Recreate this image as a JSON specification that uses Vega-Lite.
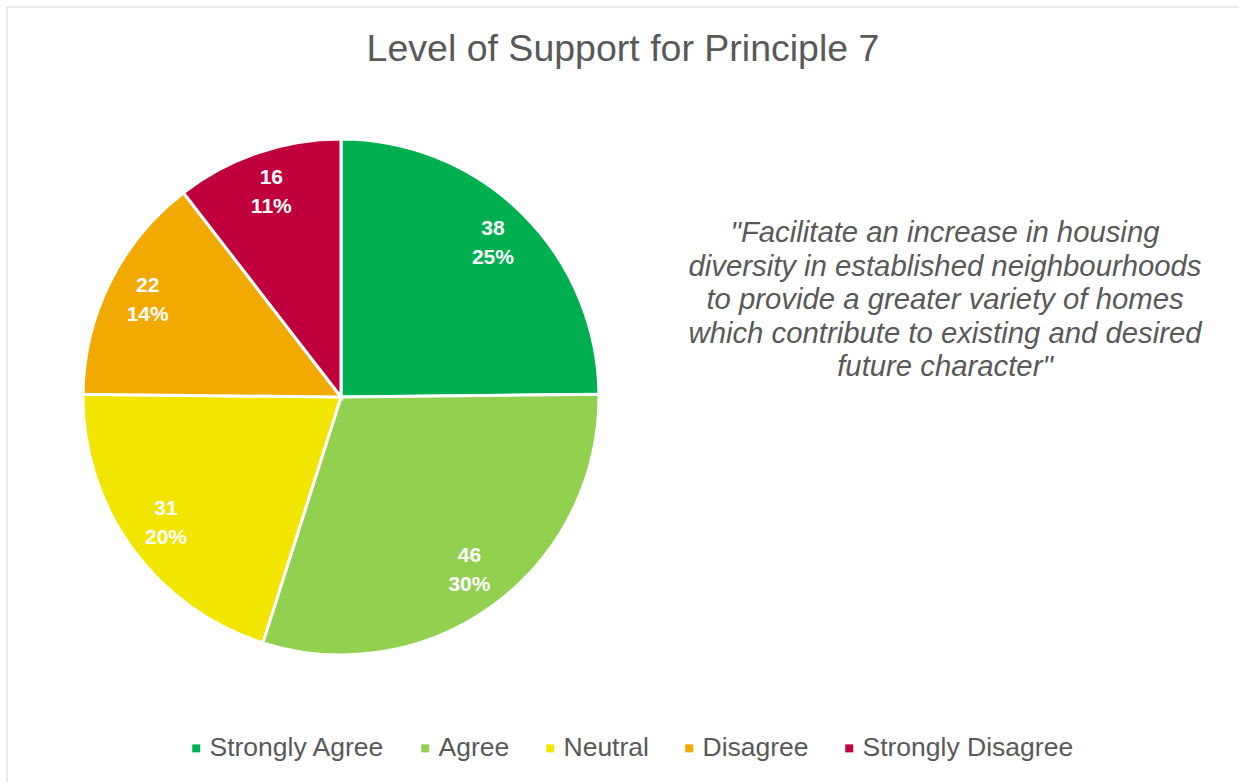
{
  "$schema": "https://vega.github.io/schema/vega-lite/v6.json",
  "autosize": "none",
  "width": 1232,
  "height": 775,
  "padding": {"left": 7, "top": 7, "right": 0, "bottom": 0},
  "background": "white",
  "title": {
    "text": "Level of Support for Principle 7",
    "font": "Liberation Sans",
    "fontSize": 37.5,
    "fontWeight": "normal",
    "color": "#595959",
    "anchor": "middle",
    "baseline": "alphabetic",
    "offset": -92
  },
  "config": {
    "view": {"stroke": null},
    "font": "Liberation Sans"
  },
  "layer": [
    {
      "data": {"values": [{"frame": "border"}]},
      "mark": {"type": "rect", "fill": "transparent", "stroke": "#d9d9d9", "strokeWidth": 1, "x": 0, "y": 0, "x2": {"expr": "width + 6"}, "y2": {"expr": "height + 6"}}
    },
    {
      "data": {
        "values": [
          {"response": "Strongly Agree", "count": 38, "pct": "25%", "label": "38\n25%", "rank": 1},
          {"response": "Agree", "count": 46, "pct": "30%", "label": "46\n30%", "rank": 2},
          {"response": "Neutral", "count": 31, "pct": "20%", "label": "31\n20%", "rank": 3},
          {"response": "Disagree", "count": 22, "pct": "14%", "label": "22\n14%", "rank": 4},
          {"response": "Strongly Disagree", "count": 16, "pct": "11%", "label": "16\n11%", "rank": 5}
        ]
      },
      "encoding": {
        "theta": {"field": "count", "type": "quantitative", "stack": true},
        "order": {"field": "rank", "type": "quantitative"},
        "color": {
          "field": "response",
          "type": "nominal",
          "sort": ["Strongly Agree", "Agree", "Neutral", "Disagree", "Strongly Disagree"],
          "scale": {
            "domain": ["Strongly Agree", "Agree", "Neutral", "Disagree", "Strongly Disagree"],
            "range": ["#00B050", "#92D050", "#F2E600", "#F2A900", "#C0003C"]
          },
          "legend": {
            "title": null,
            "orient": "none",
            "direction": "horizontal",
            "legendX": 176,
            "legendY": 728,
            "symbolType": "square",
            "symbolSize": 64,
            "symbolStrokeWidth": 0,
            "labelFont": "Liberation Sans",
            "labelFontSize": 26.5,
            "labelColor": "#595959",
            "labelOffset": 0,
            "columnPadding": 27,
            "padding": 0,
            "labelLimit": 400
          }
        }
      },
      "layer": [
        {
          "mark": {"type": "arc", "outerRadius": 258, "x": 334, "y": 390, "stroke": "white", "strokeWidth": 3}
        },
        {
          "mark": {"type": "text", "radius": 216, "x": 334, "y": 390, "dy": -14.5, "lineBreak": "\n", "lineHeight": 29, "font": "Liberation Sans", "fontSize": 21, "fontWeight": "bold", "fill": "white", "align": "center", "baseline": "middle"},
          "encoding": {
            "text": {"field": "label", "type": "nominal"},
            "color": {"value": "white"}
          }
        }
      ]
    },
    {
      "data": {"values": [{"quote": "\"Facilitate an increase in housing\ndiversity in established neighbourhoods\nto provide a greater variety of homes\nwhich contribute to existing and desired\nfuture character\""}]},
      "mark": {"type": "text", "x": 938, "y": 212, "lineBreak": "\n", "lineHeight": 33.5, "font": "Liberation Sans", "fontSize": 29.3, "fontStyle": "italic", "color": "#595959", "align": "center", "baseline": "top"},
      "encoding": {"text": {"field": "quote", "type": "nominal"}}
    }
  ]
}
